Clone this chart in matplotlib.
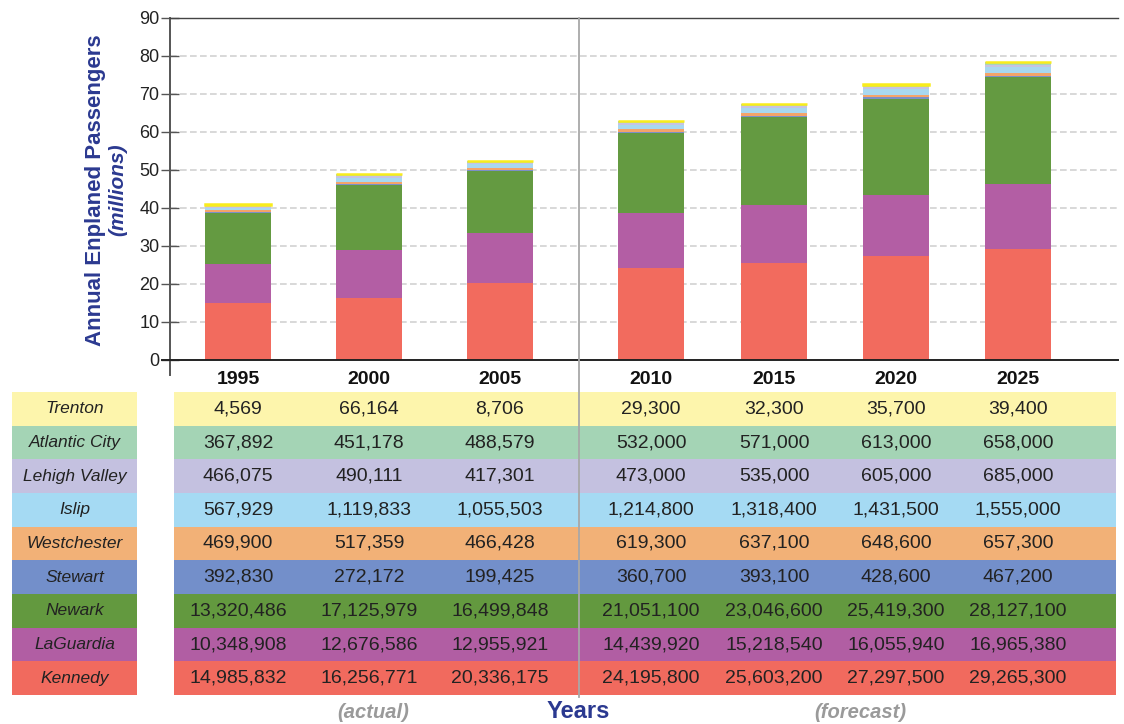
import numpy as np
import matplotlib

matplotlib.use("Agg")
import matplotlib.pyplot as plt
from matplotlib.patches import Rectangle

plt.rcParams["font.family"] = ["Liberation Sans", "DejaVu Sans"]

YEARS = ["1995", "2000", "2005", "2010", "2015", "2020", "2025"]

# airports, bottom of the stack first
AIRPORTS = ["Kennedy", "LaGuardia", "Newark", "Stewart", "Westchester",
            "Islip", "Lehigh Valley", "Atlantic City", "Trenton"]

kennedy = [14985832, 16256771, 20336175, 24195800, 25603200, 27297500, 29265300]
laguardia = [10348908, 12676586, 12955921, 14439920, 15218540, 16055940, 16965380]
newark = [13320486, 17125979, 16499848, 21051100, 23046600, 25419300, 28127100]
stewart = [392830, 272172, 199425, 360700, 393100, 428600, 467200]
westchester = [469900, 517359, 466428, 619300, 637100, 648600, 657300]
islip = [567929, 1119833, 1055503, 1214800, 1318400, 1431500, 1555000]
lehigh = [466075, 490111, 417301, 473000, 535000, 605000, 685000]
atlantic = [367892, 451178, 488579, 532000, 571000, 613000, 658000]
trenton = [4569, 66164, 8706, 29300, 32300, 35700, 39400]

SERIES = [kennedy, laguardia, newark, stewart, westchester,
          islip, lehigh, atlantic, trenton]

BAR_COLORS = ["#f26b5e", "#b35ea4", "#649a41", "#7b8fc8", "#f4a46a",
              "#a8d8f0", "#c7c3e2", "#a9d5b8", "#f9ec1c"]
ROW_COLORS = ["#f16a5e", "#b15ea3", "#63993f", "#738fca", "#f2b177",
              "#a5daf3", "#c4c1e0", "#a4d4b5", "#fdf5ac"]

NAVY = "#2b3990"
GREY_TXT = "#9a9a9a"

# layout, in figure pixels (1124 x 724)
W, H = 1124, 724
XPOS = [238, 369, 500, 651, 774, 896, 1018]
BAR_W = 66
AX_L, AX_R, AX_TOP, Y0 = 170, 1118, 18, 360
PX_PER_UNIT = (Y0 - AX_TOP) / 90.0
YMIN = -4
AX_BOT = Y0 - YMIN * PX_PER_UNIT
DIVIDER_X = 578.5

fig = plt.figure(figsize=(W / 100, H / 100), dpi=100)

ax = fig.add_axes([AX_L / W, 1 - AX_BOT / H, (AX_R - AX_L) / W,
                   (AX_BOT - AX_TOP) / H])
ax.set_xlim(AX_L, AX_R)
ax.set_ylim(YMIN, 90)

bottom = np.zeros(len(YEARS))
for name, vals, col in zip(AIRPORTS, SERIES, BAR_COLORS):
    h = np.array(vals) / 1e6
    if name == "Trenton":
        # tiny values: a yellow edge keeps the cap visible as in the source
        ax.bar(XPOS, h, BAR_W, bottom=bottom, color=col, edgecolor=col,
               lw=1.8, zorder=3)
    else:
        ax.bar(XPOS, h, BAR_W, bottom=bottom, color=col, lw=0, zorder=3)
    bottom += h

ax.set_yticks(range(0, 91, 10))
for v in range(10, 90, 10):
    ax.axhline(v, color="#d2d2d2", lw=1.2, ls=(0, (4, 2)), zorder=1)
ax.axhline(0, color="#222222", lw=1.4, zorder=4, xmin=-0.008, clip_on=False)

for s in ["right", "bottom"]:
    ax.spines[s].set_visible(False)
ax.spines["left"].set_color("#555555")
ax.spines["left"].set_linewidth(1.4)
ax.spines["top"].set_color("#444444")
ax.spines["top"].set_linewidth(1.0)
ax.tick_params(axis="y", direction="inout", length=13, width=1.0,
               color="#555555", labelsize=13, labelcolor="#222222", pad=1)
ax.set_xticks([])

for x, yr in zip(XPOS, YEARS):
    ax.text(x, YMIN - 1.0, yr, ha="center", va="center", fontsize=14,
            fontweight="semibold", color="#111111", clip_on=False)

# y label, two lines
fig.text(96 / W, 1 - 190 / H, "Annual Enplaned Passengers", rotation=90,
         ha="center", va="center", fontsize=16, fontweight="bold", color=NAVY)
fig.text(118 / W, 1 - 190 / H, "(millions)", rotation=90, ha="center",
         va="center", fontsize=15, fontweight="bold", style="italic",
         color=NAVY)

# table drawn on an overlay in pixel units
tab = fig.add_axes([0, 0, 1, 1])
tab.set_xlim(0, W)
tab.set_ylim(H, 0)
tab.axis("off")

T_TOP, T_BOT = 392, 695
row_h = (T_BOT - T_TOP) / len(AIRPORTS)
for i, (name, vals) in enumerate(zip(AIRPORTS[::-1], SERIES[::-1])):
    col = ROW_COLORS[::-1][i]
    y0 = T_TOP + i * row_h
    yc = y0 + row_h / 2
    tab.add_patch(Rectangle((12, y0), 125, row_h, color=col, lw=0))
    tab.add_patch(Rectangle((174, y0), DIVIDER_X - 174, row_h, color=col, lw=0))
    tab.add_patch(Rectangle((DIVIDER_X, y0), 1116 - DIVIDER_X, row_h,
                            color=col, lw=0))
    tab.text(74.5, yc, name, ha="center", va="center", fontsize=12.5,
             style="italic", color="#222222")
    for x, v in zip(XPOS, vals):
        tab.text(x, yc, f"{v:,}", ha="center", va="center", fontsize=14,
                 color="#222222")

tab.plot([DIVIDER_X, DIVIDER_X], [AX_TOP, T_BOT + 2], color="#a8a8a8",
         lw=1.3, zorder=5)

tab.text(373, 713, "(actual)", ha="center", va="center", fontsize=14.5,
         fontweight="bold", style="italic", color=GREY_TXT)
tab.text(578, 712, "Years", ha="center", va="center", fontsize=17,
         fontweight="bold", color=NAVY)
tab.text(860, 713, "(forecast)", ha="center", va="center", fontsize=14.5,
         fontweight="bold", style="italic", color=GREY_TXT)

fig.savefig("out.png", dpi=100)
